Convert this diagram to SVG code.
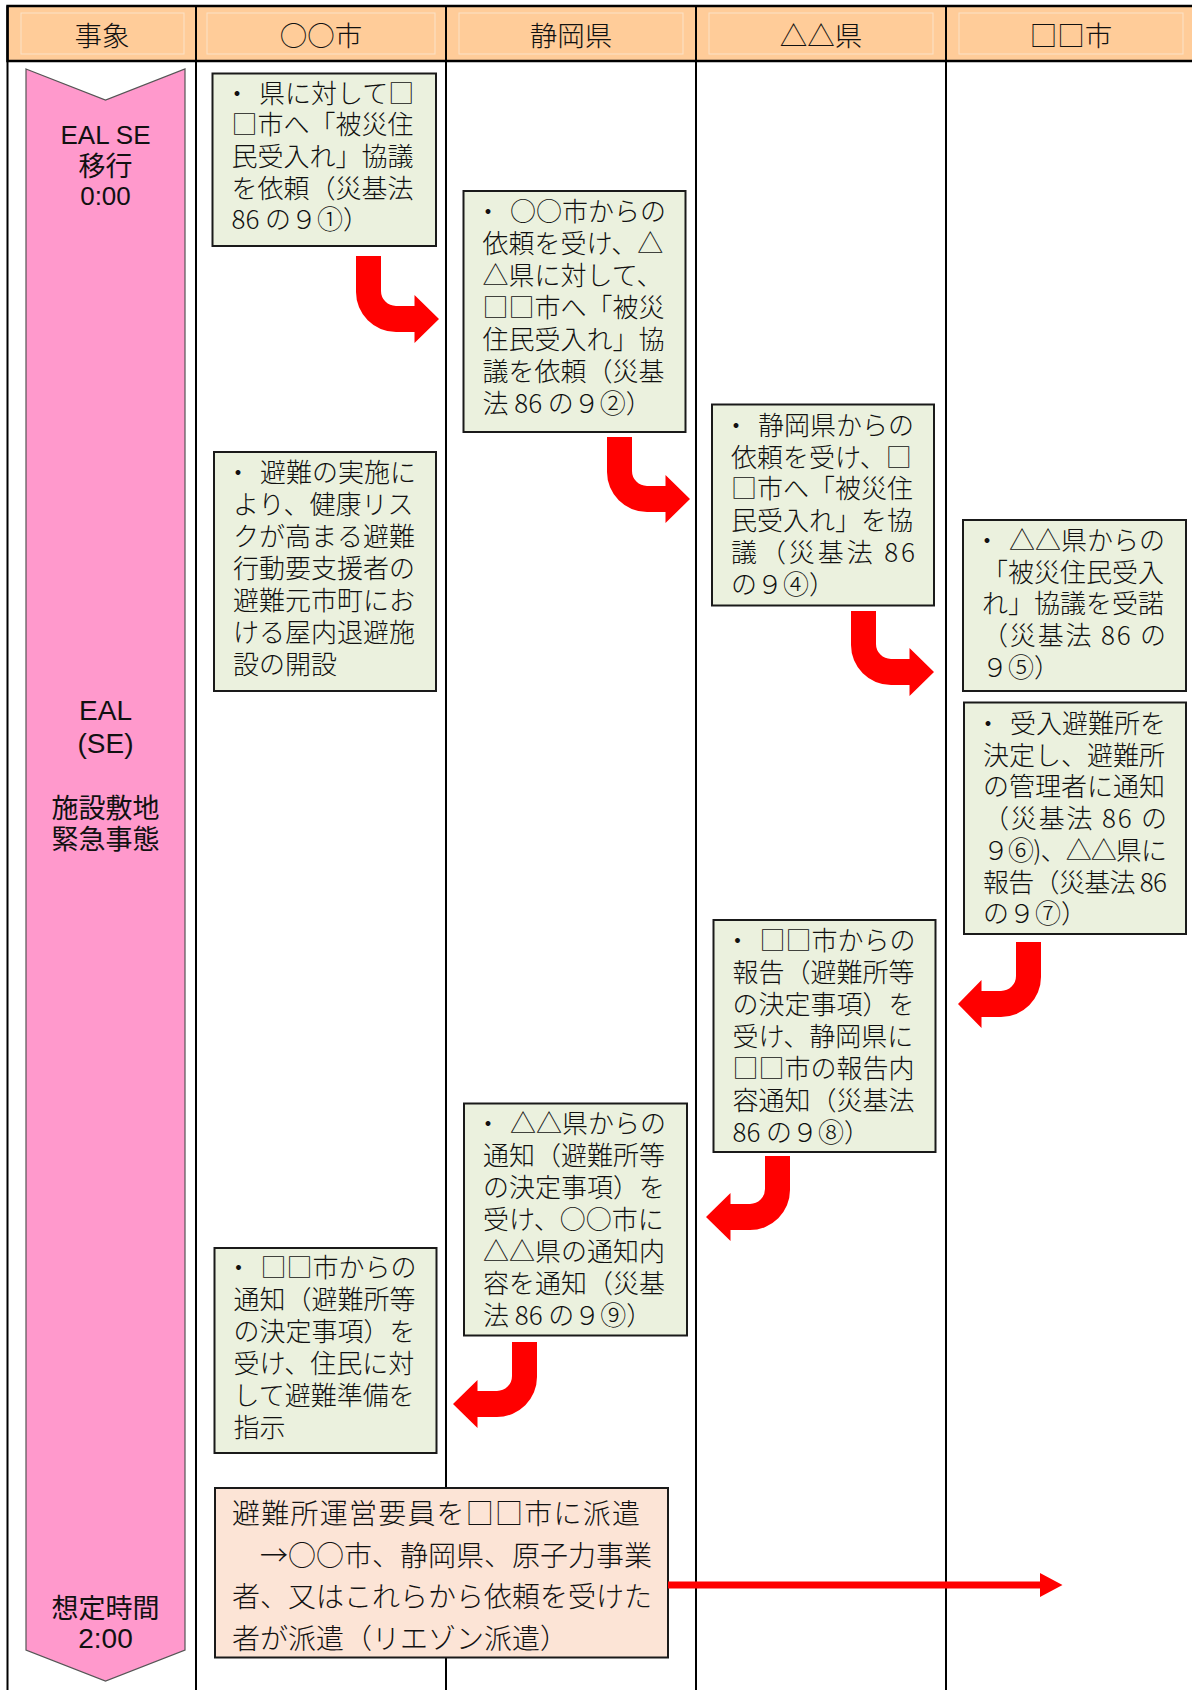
<svg xmlns="http://www.w3.org/2000/svg" width="1192" height="1690" viewBox="0 0 1192 1690">
<style>
.hdr{fill:#FFCC99;stroke:#000;stroke-width:2.5}
.hin{fill:none;stroke:#FBE2C8;stroke-width:1}
.ln{stroke:#000;stroke-width:2}
.t{font-family:"Noto Sans CJK JP","Noto Sans CJK SC",sans-serif;font-size:26px;font-weight:300;fill:#111}
.t28{font-family:"Noto Sans CJK JP","Noto Sans CJK SC",sans-serif;font-size:28px;font-weight:300;fill:#111}
.ht{font-family:"Noto Sans CJK JP","Noto Sans CJK SC",sans-serif;font-size:27.5px;font-weight:300;fill:#111;text-anchor:middle}
.pt{font-family:"Liberation Sans","Noto Sans CJK JP",sans-serif;fill:#111;text-anchor:middle}
.box{fill:#EBF1DE;stroke:#1a1a1a;stroke-width:2}
.box2{fill:#FCE4D6;stroke:#1a1a1a;stroke-width:2}
.arr{fill:#FF0000}
.ev{fill:#FF99CC;stroke:#555;stroke-width:1.2}
</style>
<rect width="1192" height="1690" fill="#fff"/>
<g id="header">
<rect class="hdr" x="7.5" y="6" width="1190" height="55"/>
<rect class="hin" x="21" y="13" width="163" height="41"/>
<rect class="hin" x="207" y="13" width="228" height="41"/>
<rect class="hin" x="459" y="13" width="224" height="41"/>
<rect class="hin" x="709" y="13" width="224" height="41"/>
<rect class="hin" x="959" y="13" width="224" height="41"/>
<text class="ht" x="102" y="45.5">事象</text>
<text class="ht" x="321" y="45.5">○○市</text>
<text class="ht" x="571" y="45.5">静岡県</text>
<text class="ht" x="821" y="45.5">△△県</text>
<text class="ht" x="1071" y="45.5">□□市</text>
</g>
<g id="grid">
<line class="ln" x1="7.5" y1="6" x2="7.5" y2="1690"/>
<line class="ln" x1="196" y1="6" x2="196" y2="1690"/>
<line class="ln" x1="446" y1="6" x2="446" y2="1690"/>
<line class="ln" x1="696" y1="6" x2="696" y2="1690"/>
<line class="ln" x1="946" y1="6" x2="946" y2="1690"/>
</g>
<g id="event">
<polygon class="ev" points="26,69 105.5,100 185,69 185,1650 105.5,1681 26,1650"/>
<text class="pt" x="105.5" y="143.5" font-size="26">EAL SE</text>
<text class="pt" x="105.5" y="176" font-size="27">移行</text>
<text class="pt" x="105.5" y="205" font-size="26">0:00</text>
<text class="pt" x="105.5" y="720" font-size="28">EAL</text>
<text class="pt" x="105.5" y="753" font-size="28">(SE)</text>
<text class="pt" x="105.5" y="818" font-size="27">施設敷地</text>
<text class="pt" x="105.5" y="848.5" font-size="27">緊急事態</text>
<text class="pt" x="105.5" y="1618" font-size="27">想定時間</text>
<text class="pt" x="105.5" y="1648" font-size="28">2:00</text>
</g>
<g id="box1">
<rect class="box" x="212.5" y="73.5" width="223.5" height="172.5"/>
<text class="t" x="231.5" y="102.5"><tspan x="224">・ </tspan><tspan x="259">県に対して□</tspan></text>
<text class="t" x="231.5" y="134.2">□市へ「被災住</text>
<text class="t" x="231.5" y="165.9">民受入れ」協議</text>
<text class="t" x="231.5" y="197.6">を依頼（災基法</text>
<text class="t" x="231.5" y="229.3">86 の９①）</text>
</g>
<g id="box2">
<rect class="box" x="463.5" y="191" width="222" height="241"/>
<text class="t" x="482.5" y="221"><tspan x="475">・ </tspan><tspan x="510">○○市からの</tspan></text>
<text class="t" x="482.5" y="253">依頼を受け、△</text>
<text class="t" x="482.5" y="285">△県に対して、</text>
<text class="t" x="482.5" y="317">□□市へ「被災</text>
<text class="t" x="482.5" y="349">住民受入れ」協</text>
<text class="t" x="482.5" y="381">議を依頼（災基</text>
<text class="t" x="482.5" y="413">法 86 の９②）</text>
</g>
<g id="box3">
<rect class="box" x="214" y="452" width="222" height="239"/>
<text class="t" x="233" y="482"><tspan x="225">・ </tspan><tspan x="260">避難の実施に</tspan></text>
<text class="t" x="233" y="514">より、健康リス</text>
<text class="t" x="233" y="546">クが高まる避難</text>
<text class="t" x="233" y="578">行動要支援者の</text>
<text class="t" x="233" y="610">避難元市町にお</text>
<text class="t" x="233" y="642">ける屋内退避施</text>
<text class="t" x="233" y="674">設の開設</text>
</g>
<g id="box4">
<rect class="box" x="712" y="404.5" width="222" height="201"/>
<text class="t" x="731" y="435"><tspan x="723">・ </tspan><tspan x="758">静岡県からの</tspan></text>
<text class="t" x="731" y="466.7">依頼を受け、□</text>
<text class="t" x="731" y="498.4">□市へ「被災住</text>
<text class="t" x="731" y="530.1">民受入れ」を協</text>
<text class="t" x="731" y="561.8" textLength="184" lengthAdjust="spacing">議（災基法 86</text>
<text class="t" x="731" y="593.5">の９④）</text>
</g>
<g id="box5">
<rect class="box" x="963" y="520" width="223" height="171"/>
<text class="t" x="982" y="550"><tspan x="974">・ </tspan><tspan x="1009">△△県からの</tspan></text>
<text class="t" x="982" y="581.7">「被災住民受入</text>
<text class="t" x="982" y="613.4">れ」協議を受諾</text>
<text class="t" x="982" y="645.1" textLength="184" lengthAdjust="spacing">（災基法 86 の</text>
<text class="t" x="982" y="676.8">９⑤）</text>
</g>
<g id="box6">
<rect class="box" x="964" y="702.5" width="222" height="231.5"/>
<text class="t" x="983" y="733"><tspan x="975">・ </tspan><tspan x="1010">受入避難所を</tspan></text>
<text class="t" x="983" y="764.7">決定し、避難所</text>
<text class="t" x="983" y="796.4">の管理者に通知</text>
<text class="t" x="983" y="828.1" textLength="184" lengthAdjust="spacing">（災基法 86 の</text>
<text class="t" x="983" y="859.8" textLength="184" lengthAdjust="spacing">９⑥)、△△県に</text>
<text class="t" x="983" y="891.5" textLength="184" lengthAdjust="spacing">報告（災基法 86</text>
<text class="t" x="983" y="923.2">の９⑦）</text>
</g>
<g id="box7">
<rect class="box" x="713.5" y="920" width="222" height="232"/>
<text class="t" x="732.5" y="950"><tspan x="724.5">・ </tspan><tspan x="759.5">□□市からの</tspan></text>
<text class="t" x="732.5" y="981.9">報告（避難所等</text>
<text class="t" x="732.5" y="1013.9">の決定事項）を</text>
<text class="t" x="732.5" y="1045.8">受け、静岡県に</text>
<text class="t" x="732.5" y="1077.8">□□市の報告内</text>
<text class="t" x="732.5" y="1109.7">容通知（災基法</text>
<text class="t" x="732.5" y="1141.7">86 の９⑧）</text>
</g>
<g id="box8">
<rect class="box" x="464" y="1103.5" width="223" height="232"/>
<text class="t" x="483" y="1133"><tspan x="475">・ </tspan><tspan x="510">△△県からの</tspan></text>
<text class="t" x="483" y="1165">通知（避難所等</text>
<text class="t" x="483" y="1197">の決定事項）を</text>
<text class="t" x="483" y="1229">受け、○○市に</text>
<text class="t" x="483" y="1261">△△県の通知内</text>
<text class="t" x="483" y="1293">容を通知（災基</text>
<text class="t" x="483" y="1325">法 86 の９⑨）</text>
</g>
<g id="box9">
<rect class="box" x="214.5" y="1248" width="222" height="205"/>
<text class="t" x="233.5" y="1277"><tspan x="225.5">・ </tspan><tspan x="260.5">□□市からの</tspan></text>
<text class="t" x="233.5" y="1309">通知（避難所等</text>
<text class="t" x="233.5" y="1341">の決定事項）を</text>
<text class="t" x="233.5" y="1373">受け、住民に対</text>
<text class="t" x="233.5" y="1405">して避難準備を</text>
<text class="t" x="233.5" y="1437">指示</text>
</g>
<g id="box10">
<rect class="box2" x="215" y="1488" width="453" height="169.5"/>
<text class="t28" x="232" y="1524" textLength="408" lengthAdjust="spacing">避難所運営要員を□□市に派遣</text>
<text class="t28" x="232" y="1565.7">　→○○市、静岡県、原子力事業</text>
<text class="t28" x="232" y="1607.4">者、又はこれらから依頼を受けた</text>
<text class="t28" x="232" y="1649.1">者が派遣（リエゾン派遣）</text>
</g>
<g id="connectors">
<path class="arr" d="M356,256 L381,256 L381,291 A15,15 0 0 0 396,306 L414.5,306 L414.5,295 L439,319 L414.5,343 L414.5,332 L396,332 A40,40 0 0 1 356,292 Z"/>
<path class="arr" d="M607,437 L632,437 L632,471 A15,15 0 0 0 647,486 L665.5,486 L665.5,475 L690,499 L665.5,523 L665.5,512 L647,512 A40,40 0 0 1 607,472 Z"/>
<path class="arr" d="M851,611 L876,611 L876,644 A15,15 0 0 0 891,659 L909.5,659 L909.5,648 L934,672 L909.5,696 L909.5,685 L891,685 A40,40 0 0 1 851,645 Z"/>
<path class="arr" d="M1016,942 L1041,942 L1041,977 A40,40 0 0 1 1001,1017 L981.5,1017 L981.5,1028 L958,1004 L981.5,980 L981.5,991 L1001,991 A15,15 0 0 0 1016,976 Z"/>
<path class="arr" d="M765,1156 L790,1156 L790,1190 A40,40 0 0 1 750,1230 L730.5,1230 L730.5,1241 L706,1217 L730.5,1193 L730.5,1204 L750,1204 A15,15 0 0 0 765,1189 Z"/>
<path class="arr" d="M512,1342 L537,1342 L537,1377 A40,40 0 0 1 497,1417 L477.5,1417 L477.5,1428 L453,1404 L477.5,1380 L477.5,1391 L497,1391 A15,15 0 0 0 512,1376 Z"/>
<path class="arr" d="M668,1581.5 L1040,1581.5 L1040,1573 L1062.5,1585 L1040,1597 L1040,1588.5 L668,1588.5 Z"/>
</g>
</svg>
